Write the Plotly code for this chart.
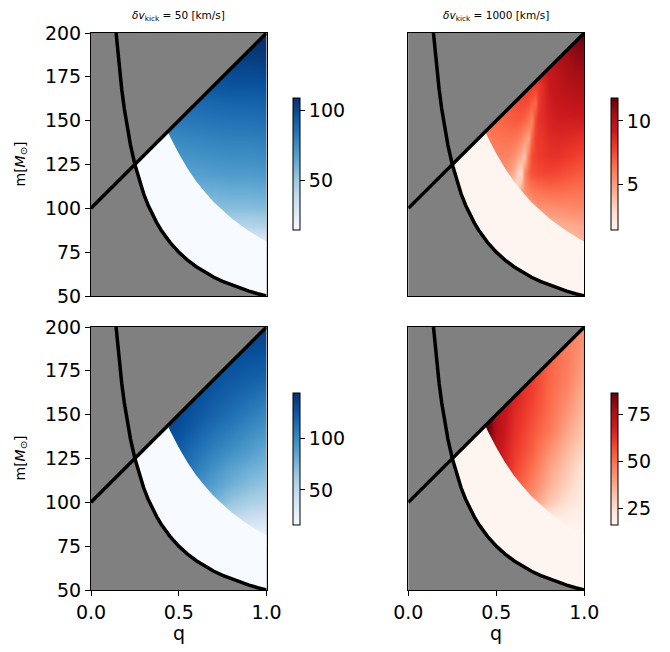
import plotly.graph_objects as go

# ---------------- data ----------------
Q_RANGE = [0.0, 1.0]
M_RANGE = [50, 200]

# straight boundary m = 100 + 100 q
line_q = [0.0, 1.0]
line_m = [100, 200]

# lower boundary curve
curve_q = [0.143, 0.15, 0.16, 0.175, 0.19, 0.2, 0.225, 0.25, 0.275, 0.3, 0.325, 0.35, 0.375,
           0.4, 0.45, 0.5, 0.55, 0.6, 0.65, 0.7, 0.75, 0.8, 0.85, 0.9, 0.95, 1.0]
curve_m = [200, 191.7, 181.3, 167.9, 156.6, 150, 136.1, 125, 115.9, 108.3, 101.9, 96.4, 91.7,
           87.5, 80.6, 75, 70.5, 66.7, 63.5, 60.7, 58.3, 56.3, 54.4, 52.8, 51.3, 50]

# inner edge of the coloured region
arc_q = [0.43, 0.45, 0.5, 0.55, 0.6, 0.65, 0.7, 0.75, 0.8, 0.85, 0.9, 0.95, 1.0]
arc_m = [145.5, 141.0, 131.3, 122.7, 115.3, 109.2, 103.4, 98.9, 94.3, 90.7, 87.1, 83.9, 81.0]

# value grids
grid_q = [0.4, 0.5, 0.6, 0.7, 0.8, 0.9, 1.0]
grid_q_tr = [0.40, 0.45, 0.50, 0.55, 0.58, 0.60, 0.62, 0.64, 0.66, 0.68, 0.70, 0.72, 0.74,
             0.77, 0.80, 0.85, 0.90, 0.95, 1.00]
grid_m = [80, 90, 100, 110, 120, 130, 140, 150, 160, 170, 180, 190, 200]

z_top_left = [
    [19, 20, 21, 22, 23, 23, 24],
    [39, 40, 41, 42, 43, 43, 44],
    [51, 52, 53, 54, 55, 55, 56],
    [58, 59, 60, 61, 62, 62, 63],
    [66, 67, 68, 69, 70, 70, 71],
    [71, 72, 73, 74, 75, 75, 76],
    [76, 77, 78, 79, 80, 80, 81],
    [81, 82, 83, 84, 85, 85, 86],
    [86, 87, 88, 89, 90, 90, 91],
    [92, 93, 94, 95, 96, 96, 97],
    [97, 98, 99, 100, 101, 101, 102],
    [102, 103, 104, 105, 106, 106, 107],
    [106, 107, 108, 109, 110, 110, 111],
]

z_top_right = [
    [3.0, 3.0, 3.0, 3.0, 3.0, 3.0, 3.0, 3.0, 3.0, 3.0, 3.0, 3.1, 3.2, 3.3, 3.4, 3.6, 3.8, 4.0, 4.2],
    [3.5, 3.5, 3.5, 3.5, 3.5, 3.5, 3.5, 3.5, 3.5, 3.5, 3.8, 3.9, 4.0, 4.1, 4.2, 4.3, 4.4, 4.5, 4.7],
    [4.0, 4.0, 4.0, 4.0, 4.0, 3.0, 3.0, 3.5, 4.2, 4.6, 5.0, 5.1, 5.2, 5.25, 5.3, 5.4, 5.5, 5.6, 5.6],
    [4.5, 4.5, 4.5, 4.3, 3.5, 2.6, 3.0, 4.6, 5.4, 5.8, 6.0, 6.2, 6.3, 6.4, 6.5, 6.5, 6.4, 6.3, 6.3],
    [5.5, 5.5, 5.4, 5.2, 4.8, 4.2, 3.2, 2.8, 5.5, 6.8, 7.2, 7.4, 7.5, 7.6, 7.6, 7.5, 7.3, 7.1, 7.0],
    [5.9, 5.9, 5.8, 5.8, 5.6, 5.3, 4.9, 4.3, 3.6, 6.0, 7.4, 7.7, 7.9, 8.0, 8.2, 8.2, 8.0, 7.8, 7.6],
    [6.0, 6.0, 6.2, 6.3, 6.3, 6.2, 6.0, 5.7, 5.2, 4.6, 6.6, 7.8, 8.0, 8.2, 8.5, 8.6, 8.5, 8.4, 8.3],
    [6.5, 6.5, 6.6, 6.8, 6.9, 7.0, 7.0, 6.9, 6.7, 6.3, 5.6, 7.6, 8.2, 8.5, 8.8, 9.0, 9.0, 9.0, 9.0],
    [7.0, 7.0, 7.0, 7.1, 7.2, 7.3, 7.4, 7.5, 7.5, 7.3, 7.0, 6.6, 8.0, 8.6, 9.0, 9.3, 9.5, 9.6, 9.6],
    [7.5, 7.5, 7.5, 7.5, 7.6, 7.6, 7.7, 7.7, 7.8, 7.9, 8.0, 7.8, 7.9, 8.6, 9.2, 9.6, 9.9, 10.1, 10.2],
    [8.0, 8.0, 8.0, 8.0, 8.1, 8.2, 8.3, 8.4, 8.5, 8.6, 8.8, 8.9, 9.0, 9.2, 9.4, 9.9, 10.3, 10.6, 10.7],
    [8.5, 8.5, 8.5, 8.5, 8.6, 8.7, 8.8, 8.9, 9.0, 9.2, 9.4, 9.5, 9.6, 9.8, 10.0, 10.3, 10.6, 11.0, 11.2],
    [9.0, 9.0, 9.0, 9.0, 9.1, 9.2, 9.3, 9.4, 9.5, 9.7, 9.9, 10.0, 10.2, 10.4, 10.6, 10.9, 11.2, 11.5, 11.8],
]

z_bottom_left = [
    [70, 60, 45, 35, 25, 20, 22],
    [95, 85, 72, 58, 48, 42, 38],
    [108, 100, 92, 77, 66, 59, 55],
    [115, 108, 97, 88, 78, 71, 66],
    [122, 115, 106, 96, 87, 80, 75],
    [128, 121, 112, 104, 97, 90, 83],
    [133, 127, 119, 111, 105, 98, 92],
    [136, 131, 124, 118, 112, 106, 100],
    [138, 134, 128, 123, 118, 113, 108],
    [140, 137, 132, 127, 123, 120, 117],
    [141, 139, 135, 131, 128, 125, 124],
    [142, 140, 137, 134, 132, 131, 130],
    [143, 141, 139, 137, 136, 136, 137],
]

z_bottom_right = [
    [30, 25, 20, 18, 16, 16, 16],
    [45, 38, 30, 24, 20, 18, 17],
    [70, 60, 50, 41, 31, 24, 19],
    [85, 70, 56, 46, 36, 28, 21],
    [95, 73, 59, 50, 39, 31, 23],
    [98, 72, 61, 53, 43, 34, 27],
    [100, 74, 63, 55, 48, 38, 30],
    [100, 75, 64, 57, 50, 41, 33],
    [100, 76, 66, 59, 51, 44, 35],
    [100, 77, 66, 60, 52, 46, 38],
    [100, 77, 67, 60, 53, 47, 40],
    [100, 77, 67, 60, 53, 47, 42],
    [100, 77, 67, 60, 53, 47, 43],
]

kick_titles = ["50", "1000"]
y_ticks = [50, 75, 100, 125, 150, 175, 200]
x_ticks = [0.0, 0.5, 1.0]

BLUES = ['rgb(247,251,255)', 'rgb(222,235,247)', 'rgb(198,219,239)', 'rgb(158,202,225)',
         'rgb(107,174,214)', 'rgb(66,146,198)', 'rgb(33,113,181)', 'rgb(8,81,156)', 'rgb(8,48,107)']
REDS = ['rgb(255,245,240)', 'rgb(254,224,210)', 'rgb(252,187,161)', 'rgb(252,146,114)',
        'rgb(251,106,74)', 'rgb(239,59,44)', 'rgb(203,24,29)', 'rgb(165,15,21)', 'rgb(103,0,13)']


def scale(cols):
    n = len(cols) - 1
    return [[i / n, c] for i, c in enumerate(cols)]


# the page body adds an 8 px margin; the figure is sized to fit the window
OFF = 8
W, H = 670 - OFF, 652 - OFF
FONT = "DejaVu Sans"


def px(x):
    return (x - OFF) / W


def py(y):
    return 1 - (y - OFF) / H


# panel pixel boxes in window coordinates (left, right, top, bottom)
boxes = {
    1: (91, 266.5, 33, 296),
    2: (408.3, 584.3, 33, 296),
    3: (91, 266.5, 327, 590),
    4: (408.3, 584.3, 327, 590),
}
cbars = {
    1: (293.3, 98.3, 230),
    2: (611.0, 98.3, 230),
    3: (293.3, 393.3, 525),
    4: (611.0, 393.3, 525),
}

panels = [
    dict(i=1, x=grid_q, z=z_top_left, cols=BLUES, zmin=14, zmax=109, tv=[50, 100]),
    dict(i=2, x=grid_q_tr, z=z_top_right, cols=REDS, zmin=1.37, zmax=11.8, tv=[5, 10]),
    dict(i=3, x=grid_q, z=z_bottom_left, cols=BLUES, zmin=16, zmax=143.5, tv=[50, 100]),
    dict(i=4, x=grid_q, z=z_bottom_right, cols=REDS, zmin=16, zmax=86.2, tv=[25, 50, 75]),
]

fig = go.Figure()
layout = {}

for p in panels:
    i = p["i"]
    xa = "x" if i == 1 else f"x{i}"
    ya = "y" if i == 1 else f"y{i}"
    l, r, t, b = boxes[i]
    cx, ct, cb = cbars[i]

    fig.add_trace(go.Heatmap(
        x=p["x"], y=grid_m, z=p["z"], zsmooth="best",
        colorscale=scale(p["cols"]), zmin=p["zmin"], zmax=p["zmax"],
        xaxis=xa, yaxis=ya,
        colorbar=dict(
            x=px(cx), xanchor="left", xpad=0, ypad=0,
            y=py((ct + cb) / 2), yanchor="middle",
            len=(cb - ct) / H, lenmode="fraction",
            thickness=7.4, thicknessmode="pixels",
            outlinecolor="black", outlinewidth=1,
            ticks="outside", ticklen=5, tickwidth=1.1, tickcolor="black",
            tickvals=p["tv"], tickfont=dict(family=FONT, size=19, color="black"),
        ),
        hoverinfo="skip",
    ))

    # white (lowest colour) band below the inner edge
    band_q = arc_q + [Q_RANGE[1], Q_RANGE[0], Q_RANGE[0]]
    band_m = arc_m + [M_RANGE[0], M_RANGE[0], M_RANGE[1]]
    fig.add_trace(go.Scatter(x=band_q, y=band_m, fill="toself", mode="none",
                             fillcolor=p["cols"][0], xaxis=xa, yaxis=ya,
                             showlegend=False, hoverinfo="skip"))
    # gray excluded regions
    fig.add_trace(go.Scatter(x=line_q + [Q_RANGE[0]], y=line_m + [M_RANGE[1]],
                             fill="toself", mode="none", fillcolor="#808080",
                             xaxis=xa, yaxis=ya, showlegend=False, hoverinfo="skip"))
    fig.add_trace(go.Scatter(x=curve_q + [Q_RANGE[0], Q_RANGE[0]],
                             y=curve_m + [M_RANGE[0], M_RANGE[1]],
                             fill="toself", mode="none", fillcolor="#808080",
                             xaxis=xa, yaxis=ya, showlegend=False, hoverinfo="skip"))
    # black boundary lines
    fig.add_trace(go.Scatter(x=line_q, y=line_m, mode="lines",
                             line=dict(color="black", width=3.5),
                             xaxis=xa, yaxis=ya, showlegend=False, hoverinfo="skip"))
    fig.add_trace(go.Scatter(x=curve_q, y=curve_m, mode="lines",
                             line=dict(color="black", width=3.5),
                             xaxis=xa, yaxis=ya, showlegend=False, hoverinfo="skip"))

    bottom = i in (3, 4)
    left = i in (1, 3)
    common = dict(showgrid=False, zeroline=False, showline=True, mirror=True,
                  linecolor="black", linewidth=1.1,
                  tickfont=dict(family=FONT, size=19, color="black"),
                  ticklen=5, tickwidth=1.1, tickcolor="black", automargin=False)
    layout["xaxis" if i == 1 else f"xaxis{i}"] = dict(
        common, domain=[px(l), px(r)], range=Q_RANGE, anchor=ya,
        ticks="outside" if bottom else "", showticklabels=bottom,
        tickvals=x_ticks, tickformat=".1f")
    layout["yaxis" if i == 1 else f"yaxis{i}"] = dict(
        common, domain=[py(b), py(t)], range=M_RANGE, anchor=xa,
        ticks="outside" if left else "", showticklabels=left,
        tickvals=y_ticks)

annotations = []
for k, i in enumerate([1, 2]):
    l, r, t, b = boxes[i]
    annotations.append(dict(
        x=px((l + r) / 2), y=py(16), xref="paper", yref="paper",
        xanchor="center", yanchor="middle", showarrow=False,
        text=f"<i>δv</i><sub>kick</sub> = {kick_titles[k]} [km/s]",
        font=dict(family=FONT, size=10.5, color="black")))
for i in (1, 3):
    l, r, t, b = boxes[i]
    annotations.append(dict(
        x=px(20), y=py((t + b) / 2), xref="paper", yref="paper",
        xanchor="center", yanchor="middle", showarrow=False, textangle=-90,
        text="m[<i>M</i><sub>⊙</sub>]",
        font=dict(family=FONT, size=14, color="black")))
for i in (3, 4):
    l, r, t, b = boxes[i]
    annotations.append(dict(
        x=px((l + r) / 2), y=py(633), xref="paper", yref="paper",
        xanchor="center", yanchor="middle", showarrow=False,
        text="q", font=dict(family=FONT, size=19, color="black")))

fig.update_layout(
    width=W, height=H, margin=dict(l=0, r=0, t=0, b=0, autoexpand=False),
    paper_bgcolor="white", plot_bgcolor="#808080",
    showlegend=False, annotations=annotations, **layout)

fig.write_html("out.html")
